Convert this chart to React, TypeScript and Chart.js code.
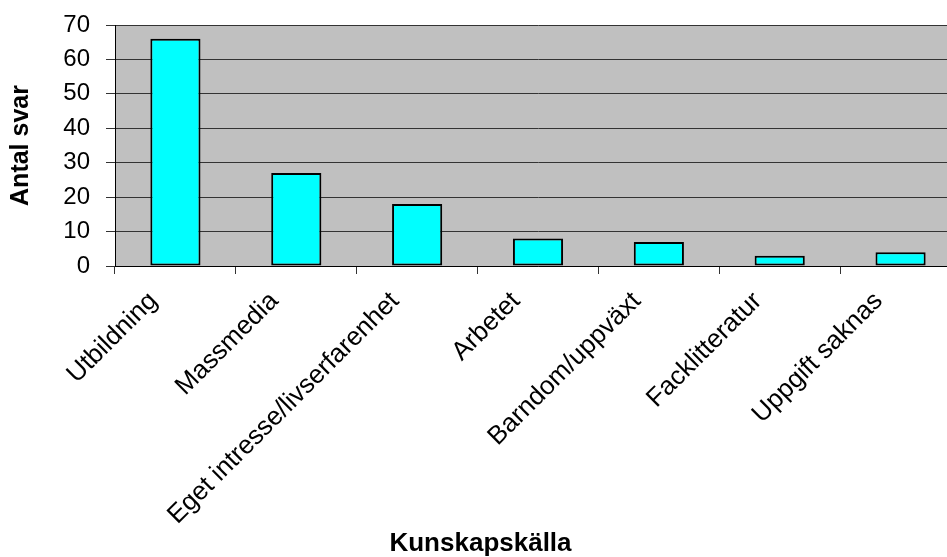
import React, { useEffect, useRef } from "react";
import { Chart, registerables } from "chart.js";

Chart.register(...registerables);

// Kunskapskälla vs. antal svar
const categories: string[] = [
  "Utbildning",
  "Massmedia",
  "Eget intresse/livserfarenhet",
  "Arbetet",
  "Barndom/uppväxt",
  "Facklitteratur",
  "Uppgift saknas",
];
const answers: number[] = [66, 27, 18, 8, 7, 3, 4];
const yMax = 70;
const yStep = 10;

const FONT = "'Liberation Sans', Arial, Helvetica, sans-serif";

// Grey plot background behind the bars
const plotBackground = {
  id: "plotBackground",
  beforeDraw(chart: any) {
    const { ctx, chartArea } = chart;
    if (!chartArea) return;
    ctx.save();
    ctx.fillStyle = "#c0c0c0";
    ctx.fillRect(
      chartArea.left,
      chartArea.top,
      chartArea.right - chartArea.left,
      chartArea.bottom - chartArea.top
    );
    ctx.restore();
  },
};

export default function App() {
  const canvasRef = useRef<HTMLCanvasElement | null>(null);

  useEffect(() => {
    if (!canvasRef.current) return;
    const chart = new Chart(canvasRef.current, {
      type: "bar",
      data: {
        labels: categories,
        datasets: [
          {
            label: "Antal svar",
            data: answers,
            backgroundColor: "#00ffff",
            borderColor: "#000000",
            borderWidth: 2,
            borderSkipped: false,
            barPercentage: 0.415,
            categoryPercentage: 1,
          },
        ],
      },
      options: {
        animation: false,
        responsive: false,
        maintainAspectRatio: false,
        layout: { padding: { top: 25, right: 9, bottom: 0, left: 0 } },
        plugins: {
          legend: { display: false },
          tooltip: { enabled: false },
          title: {
            display: true,
            position: "bottom",
            text: "Kunskapskälla",
            color: "#000000",
            font: { family: FONT, size: 26, weight: "bold", lineHeight: 1 },
            padding: { top: 0, bottom: 0 },
          },
        },
        scales: {
          x: {
            offset: true,
            grid: {
              offset: true,
              drawOnChartArea: false,
              drawTicks: true,
              tickLength: 8,
              color: "#333333",
            },
            border: { display: true, color: "#000000", width: 1 },
            ticks: {
              minRotation: 45,
              maxRotation: 45,
              autoSkip: false,
              padding: 12,
              labelOffset: -22,
              color: "#000000",
              font: { family: FONT, size: 26 },
            },
            afterFit(scale: any) {
              scale.height = 265;
            },
          },
          y: {
            min: 0,
            max: yMax,
            ticks: {
              stepSize: yStep,
              padding: 16,
              color: "#000000",
              font: { family: FONT, size: 24 },
            },
            grid: {
              color: "#333333",
              lineWidth: 1,
              drawTicks: true,
              tickLength: 9,
            },
            border: { display: true, color: "#000000", width: 1 },
            title: {
              display: true,
              text: "Antal svar",
              color: "#000000",
              font: { family: FONT, size: 25, weight: "bold" },
              padding: { top: 6, bottom: 0 },
            },
            afterFit(scale: any) {
              scale.width = 115;
              // the layout padding already leaves room for the end labels
              scale.paddingTop = 0;
              scale.paddingBottom = 0;
            },
          },
        },
      },
      plugins: [plotBackground],
    });
    return () => chart.destroy();
  }, []);

  return (
    <div
      style={{
        position: "absolute",
        left: 0,
        top: 0,
        width: 947,
        height: 557,
        overflow: "hidden",
        background: "#ffffff",
      }}
    >
      <canvas ref={canvasRef} width={970} height={557} style={{ display: "block" }} />
    </div>
  );
}
